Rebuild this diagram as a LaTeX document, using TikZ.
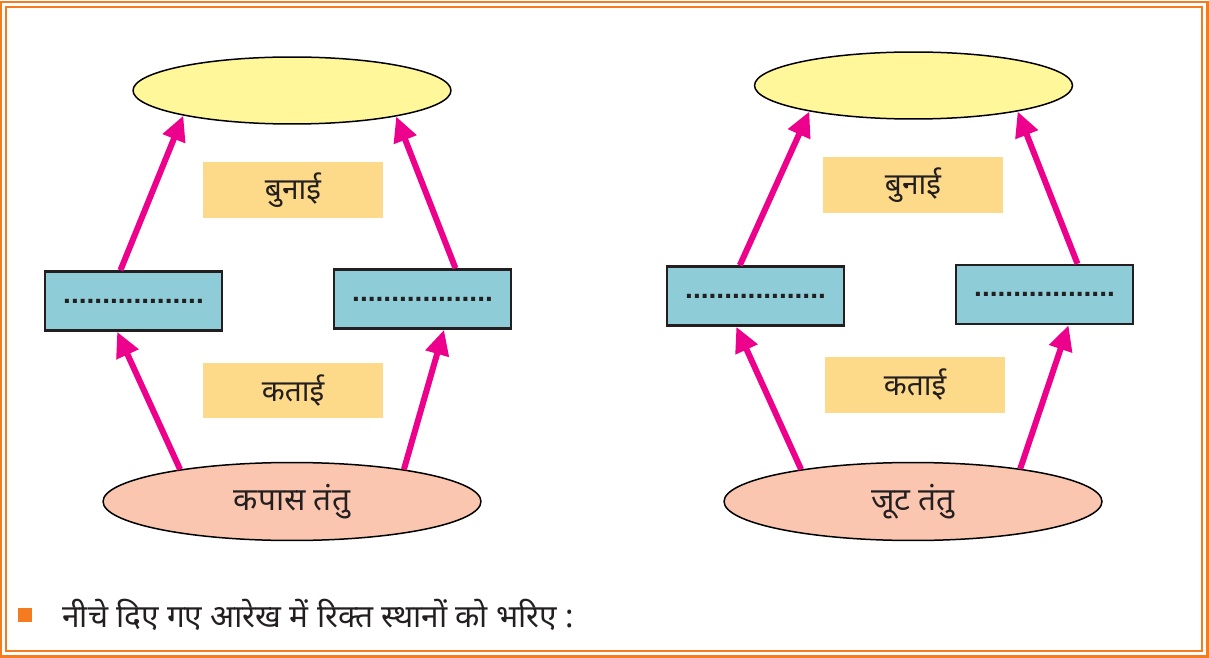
\documentclass[tikz,border=0pt]{standalone}
\usepackage{fontspec}
\newfontfamily\deva[Script=Devanagari]{Noto Sans}
\newfontfamily\dotsfont{Liberation Sans}
\usetikzlibrary{arrows.meta,shapes.geometric}
\definecolor{frameorange}{HTML}{F47B20}
\definecolor{arrowmag}{HTML}{EC008C}
\definecolor{ellyellow}{HTML}{FFF799}
\definecolor{ellsalmon}{HTML}{FBC6AF}
\definecolor{labelfill}{HTML}{FDD98A}
\definecolor{boxblue}{HTML}{8ECCD7}
\definecolor{inkdark}{HTML}{231F20}
\begin{document}
\begin{tikzpicture}[x=0.02cm,y=-0.02cm,
  topell/.style={ellipse,draw=black,line width=0.03cm,fill=ellyellow,inner sep=0pt,minimum width=6.36cm,minimum height=1.34cm},
  botell/.style={ellipse,draw=black,line width=0.03cm,fill=ellsalmon,inner sep=0pt,minimum width=7.56cm,minimum height=1.56cm,font=\deva\fontsize{18}{21}\selectfont,text=inkdark},
  labelbox/.style={rectangle,fill=labelfill,inner sep=0pt,minimum width=3.6cm,minimum height=1.12cm,font=\deva\fontsize{17}{20}\selectfont,text=inkdark},
  bluebox/.style={rectangle,draw=inkdark,line width=0.05cm,fill=boxblue,inner sep=0pt,minimum width=3.54cm,minimum height=1.18cm,font=\dotsfont\bfseries\fontsize{16}{16}\selectfont,text=inkdark},
  flowarrow/.style={draw=arrowmag,line width=0.12cm,-{Triangle[length=0.5cm,width=0.46cm]}},
  framestyle/.style={draw=frameorange,line width=0.05cm}
]
\useasboundingbox (0,0) rectangle (1209,658);
\fill[white] (0,0) rectangle (1209,658);
\draw[framestyle] (1.25,2.25) rectangle (1207.5,656.5);
\draw[framestyle] (6.25,7.25) rectangle (1202,651);

% left diagram
\node[topell] (lt) at (292,90.5) {};
\node[labelbox] (lu) at (293,190) {बुनाई};
\node[bluebox] (ll) at (133.5,301) {..................};
\node[bluebox] (lr) at (422.5,299) {..................};
\node[labelbox] (ld) at (293,390.5) {कताई};
\node[botell] (lb) at (292,501.5) {कपास तंतु};

\draw[flowarrow] (lb.164.9) -- (ll.242.7);
\draw[flowarrow] (lb.16.7) -- (lr.305.3);
\draw[flowarrow] (ll.113.5) -- (lt.193.8);
\draw[flowarrow] (lr.43.6) -- (lt.346.8);

% right diagram
\node[topell] (rt) at (913.5,85.5) {};
\node[labelbox] (ru) at (913,185) {बुनाई};
\node[bluebox] (rl) at (755.5,296) {..................};
\node[bluebox] (rr) at (1044.5,294.5) {..................};
\node[labelbox] (rd) at (915,385) {कताई};
\node[botell] (rb) at (913,501.5) {जूट तंतु};

\draw[flowarrow] (rb.164.2) -- (rl.238.3);
\draw[flowarrow] (rb.17.4) -- (rr.308.3);
\draw[flowarrow] (rl.117.3) -- (rt.194.6);
\draw[flowarrow] (rr.43) -- (rt.346.2);

% caption
\node[rectangle,fill=frameorange,inner sep=0pt,minimum size=0.28cm] (bullet) at (25,615) {};
\node[anchor=west,inner sep=0pt,font=\deva\fontsize{18}{21}\selectfont,text=inkdark] (caption) at (62,615) {नीचे दिए गए आरेख में रिक्त स्थानों को भरिए :};
\end{tikzpicture}
\end{document}
